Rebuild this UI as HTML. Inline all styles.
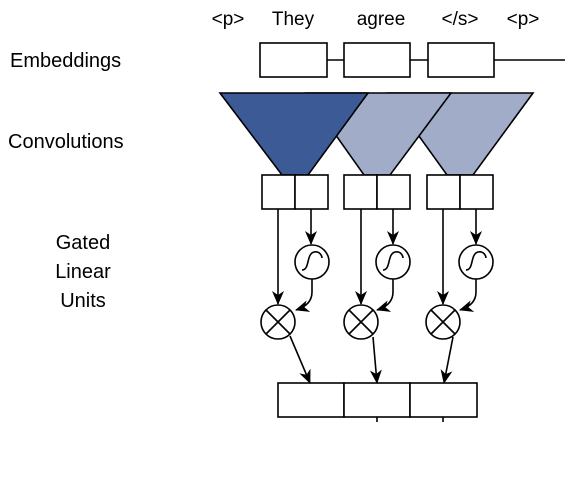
<!DOCTYPE html>
<html><head><style>body{margin:0;background:#fff}</style></head><body>
<svg width="585" height="476" viewBox="0 0 585 476" xmlns="http://www.w3.org/2000/svg" font-family="Liberation Sans, sans-serif">
<defs><marker id="a" markerWidth="14" markerHeight="12" refX="13" refY="6" orient="auto" markerUnits="userSpaceOnUse"><path d="M0,0 L14,6 L0,12 L4,6 z" fill="#000"/></marker></defs>
<g font-size="20" fill="#000">
<text x="10" y="67">Embeddings</text>
<text x="8" y="148">Convolutions</text>
<text x="83" y="249" text-anchor="middle">Gated</text>
<text x="83" y="278" text-anchor="middle">Linear</text>
<text x="83" y="307" text-anchor="middle">Units</text>
</g>
<g font-size="19" fill="#000" text-anchor="middle">
<text x="228" y="25">&lt;p&gt;</text>
<text x="293" y="25">They</text>
<text x="381" y="25">agree</text>
<text x="460" y="25">&lt;/s&gt;</text>
<text x="523" y="25">&lt;p&gt;</text>
</g>
<g stroke="#000" stroke-width="1.6" fill="#fff">
<line x1="327" y1="60" x2="344" y2="60"/><line x1="410" y1="60" x2="428" y2="60"/><line x1="494" y1="60" x2="565" y2="60"/>
<rect x="260" y="43" width="67" height="34"/><rect x="344" y="43" width="66" height="34"/><rect x="428" y="43" width="66" height="34"/>
<polygon points="388,93 533,93 473,175 447,175" fill="#a1adc8"/>
<polygon points="306,93 451,93 390,175 364,175" fill="#a1adc8"/>
<polygon points="220,93 368,93 308,175 282,175" fill="#3c5a96"/>
<rect x="262" y="175" width="33" height="34"/><rect x="295" y="175" width="33" height="34"/>
<rect x="344" y="175" width="33" height="34"/><rect x="377" y="175" width="33" height="34"/>
<rect x="427" y="175" width="33" height="34"/><rect x="460" y="175" width="33" height="34"/>
<rect x="278" y="383" width="66" height="34"/><rect x="344" y="383" width="66" height="34"/><rect x="410" y="383" width="67" height="34"/>
<line x1="377" y1="417" x2="377" y2="422"/><line x1="443" y1="417" x2="443" y2="422"/>
</g>
<g stroke="#000" stroke-width="1.6" fill="none">
<line x1="278" y1="209" x2="278" y2="304" marker-end="url(#a)"/>
<line x1="311" y1="209" x2="311" y2="244" marker-end="url(#a)"/>
<circle cx="312" cy="262" r="17" fill="#fff"/><path d="M302,270 C310,270 306,254 314,252 C320,251 322,256 322,258"/>
<path d="M312,279 L312,292 Q312,305 296,310" marker-end="url(#a)"/>
<circle cx="278" cy="322" r="17" fill="#fff"/><path d="M266,310 L290,334 M290,310 L266,334"/>
<line x1="290" y1="336" x2="310" y2="383" marker-end="url(#a)"/>
<line x1="361" y1="209" x2="361" y2="304" marker-end="url(#a)"/>
<line x1="393" y1="209" x2="393" y2="244" marker-end="url(#a)"/>
<circle cx="393" cy="262" r="17" fill="#fff"/><path d="M383,270 C391,270 387,254 395,252 C401,251 403,256 403,258"/>
<path d="M393,279 L393,292 Q393,305 377,310" marker-end="url(#a)"/>
<circle cx="361" cy="322" r="17" fill="#fff"/><path d="M349,310 L373,334 M373,310 L349,334"/>
<line x1="373" y1="337" x2="377" y2="383" marker-end="url(#a)"/>
<line x1="443" y1="209" x2="443" y2="304" marker-end="url(#a)"/>
<line x1="476" y1="209" x2="476" y2="244" marker-end="url(#a)"/>
<circle cx="476" cy="262" r="17" fill="#fff"/><path d="M466,270 C474,270 470,254 478,252 C484,251 486,256 486,258"/>
<path d="M476,279 L476,292 Q476,305 460,310" marker-end="url(#a)"/>
<circle cx="443" cy="322" r="17" fill="#fff"/><path d="M431,310 L455,334 M455,310 L431,334"/>
<line x1="453" y1="337" x2="444" y2="383" marker-end="url(#a)"/>
</g>
</svg>
</body></html>
